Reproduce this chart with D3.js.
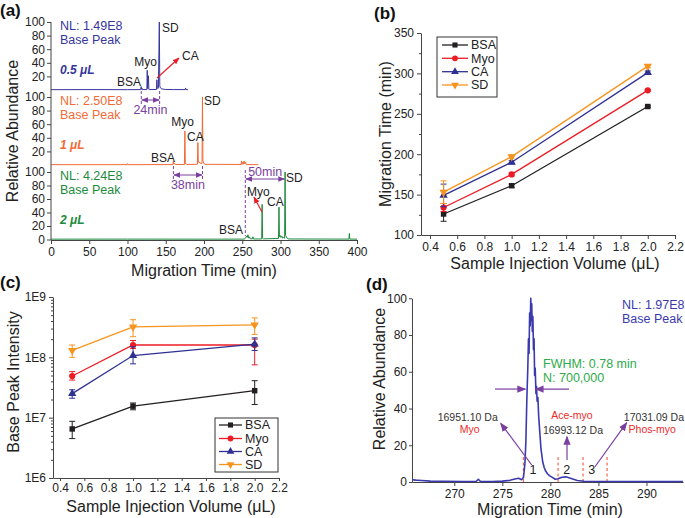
<!DOCTYPE html>
<html><head><meta charset="utf-8">
<script src="https://cdn.jsdelivr.net/npm/d3@7"></script>
<style>
body{margin:0;background:#fff}
svg{font-family:Arial,"Liberation Sans",Helvetica,sans-serif}
</style>
</head><body>
<svg id="chart" width="685" height="518"></svg>
<script>
// ---------------- DATA ----------------
// Panel (a): electropherograms, [migration time (min), relative abundance (%)]
const aTimeTicks = [0, 50, 100, 150, 200, 250, 300, 350, 400];
const aAbundTicks = [20, 40, 60, 80, 100];
const trace05 = [[0,0.5],[60,0.6],[100,0.5],[117.3,0.6],[117.8,5],[118.3,1],[118.8,3],[119.3,0.6],[125.3,0.6],[125.8,29],[126.3,2],[127.4,21],[127.9,1],[129,0.6],[137.8,0.8],[138.4,15],[139,4],[139.6,2],[140.4,3],[141.6,100],[142.2,6],[143,3],[145,1.5],[150,0.8],[160,0.6],[175.4,0.6],[175.9,3],[176.4,0.6],[179,0.5]];
const trace1 = [[0,0.5],[99.5,0.5],[100,2],[100.5,0.5],[159.4,0.6],[160,6],[160.6,1.5],[161.5,2.5],[162.2,0.8],[174.4,0.8],[175,50],[175.6,2],[176.5,2],[177.2,0.8],[191.4,1],[192,33],[192.6,4],[193.5,5],[194.5,3],[197.4,2],[198,100],[198.6,6],[199.6,3],[201,1],[248.5,0.8],[249,6],[249.6,1],[250.6,4],[251.2,1],[252.5,6],[253.2,1.5],[254.5,4],[255.2,0.6],[271,0.5]];
const trace2 = [[0,0.5],[100,0.6],[200,0.5],[253,0.6],[254.5,3],[255.5,5],[256.5,3],[257.5,7],[258.5,2],[259.5,4],[260.5,1],[263.4,1],[264,4],[264.6,0.8],[275.4,0.8],[276,52],[276.6,2],[277.5,1],[297.4,1.5],[298,48],[298.6,4],[299.6,6],[300.6,3],[301.8,5],[302.8,2],[303.8,3],[305.4,2],[306,100],[306.6,6],[307.8,4],[309,1.5],[311,0.8],[389.4,0.6],[390,9],[390.6,0.6],[400,0.5]];
const aVolumes = ["0.5 μL", "1 μL", "2 μL"];
const aNL = ["NL: 1.49E8", "NL: 2.50E8", "NL: 4.24E8"];

// Panels (b), (c)
const volumes = [0.5, 1.0, 2.0];
const proteins = ["BSA", "Myo", "CA", "SD"];
const volTicks = [0.4, 0.6, 0.8, 1.0, 1.2, 1.4, 1.6, 1.8, 2.0, 2.2];
const migTicks = [100, 150, 200, 250, 300, 350];
const migBSA = [126, 161, 259];
const migMyo = [134, 175, 279];
const migCA  = [149, 190, 301];
const migSD  = [153, 197, 309];
const migErrBSA = [9, 2, 1];
const migErrMyo = [5, 2, 1];
const migErrCA  = [14, 2, 2];
const migErrSD  = [14, 2, 2];

const intTicks = [1e6, 1e7, 1e8, 1e9];
const intBSA = [6.5e6, 1.55e7, 2.8e7];
const intMyo = [4.9e7, 1.6e8, 1.6e8];
const intCA  = [2.5e7, 1.07e8, 1.65e8];
const intSD  = [1.3e8, 3.2e8, 3.45e8];
const intLoBSA = [4.5e6, 1.35e7, 1.65e7], intHiBSA = [8.7e6, 1.75e7, 4.1e7];
const intLoMyo = [4.2e7, 1.4e8, 7.5e7],   intHiMyo = [5.8e7, 1.9e8, 2.0e8];
const intLoCA  = [2.1e7, 7.8e7, 1.3e8],   intHiCA  = [2.9e7, 1.5e8, 2.1e8];
const intLoSD  = [1.0e8, 2.2e8, 2.4e8],   intHiSD  = [1.6e8, 4.2e8, 4.5e8];

// Panel (d): myoglobin peak
const dTimeTicks = [270, 275, 280, 285, 290];
const dAbundTicks = [0, 20, 40, 60, 80, 100];
const traceD = [[265.6,1.2],[266,1.0],[266.6,0.8],[267.5,0.5],[269,0.4],[271,0.3],[272.3,0.4],[272.5,1.5],[272.7,0.4],[274,0.3],[275,0.5],[275.8,0.9],[276.3,1.6],[276.7,2.0],[277.0,1.2],[277.2,2.5],[277.35,10],[277.45,22],[277.55,45],[277.65,62],[277.72,78],[277.78,70],[277.84,92],[277.9,85],[277.96,100],[278.0,88],[278.06,97],[278.12,82],[278.18,90],[278.24,72],[278.3,78],[278.36,58],[278.42,62],[278.5,48],[278.56,52],[278.62,44],[278.7,46],[278.78,36],[278.86,30],[278.94,24],[279.02,18],[279.1,15],[279.2,11],[279.35,8],[279.5,6],[279.7,4.5],[279.9,3.5],[280.2,2.5],[280.5,1.5],[280.8,1.8],[281.2,2.6],[281.6,2.8],[282.0,2.2],[282.4,1.5],[282.8,0.8],[283.5,0.4],[285,0.3],[288,0.3],[291,0.2],[293.8,0.3]];
const dWindows = [277.2, 280.8, 283.4, 285.9];
const dMasses = ["16951.10 Da", "16993.12 Da", "17031.09 Da"];
const dForms = ["Myo", "Ace-myo", "Phos-myo"];

// ---------------- STYLE ----------------
const colors = {BSA:"#231f20", Myo:"#ed1c24", CA:"#2e3192", SD:"#f7941d"};
const aColors = ["#36369c", "#f26a36", "#1d8a3c"];
const purple = "#7b3fa0", axisCol = "#444", textCol = "#222";

const svg = d3.select("#chart");
svg.append("rect").attr("width",685).attr("height",518).attr("fill","#fff");
const defs = svg.append("defs");
function marker(id, color, size){
  defs.append("marker").attr("id",id).attr("viewBox","0 0 10 10").attr("refX",9).attr("refY",5)
    .attr("markerWidth",size).attr("markerHeight",size).attr("markerUnits","userSpaceOnUse")
    .attr("orient","auto-start-reverse")
    .append("path").attr("d","M0,1L10,5L0,9z").attr("fill",color);
}
marker("arPurple", purple, 7);
marker("arRed", "#e8202a", 7);
marker("arPurpleBig", purple, 9);

function styleAxis(g){
  g.selectAll("path.domain").attr("stroke",axisCol).attr("stroke-width",1);
  g.selectAll(".tick line").attr("stroke",axisCol);
  g.selectAll(".tick text").attr("fill",textCol).style("font-size","12px").style("font-family","Arial, 'Liberation Sans', sans-serif");
}
function txt(x,y,s,opt={}){
  const t = svg.append("text").attr("x",x).attr("y",y).text(s)
    .attr("fill",opt.fill||textCol).style("font-size",(opt.size||12)+"px")
    .attr("text-anchor",opt.anchor||"start").attr("dy","0.35em");
  if(opt.weight) t.style("font-weight",opt.weight);
  if(opt.italic) t.style("font-style","italic");
  if(opt.rotate) t.attr("transform",`rotate(-90,${x},${y})`);
  return t;
}
function panelLabel(x,y,s){ txt(x,y,s,{size:17,weight:"bold",fill:"#111"}); }

// ---------------- PANEL (a) ----------------
const xA = d3.scaleLinear().domain([0,400]).range([51,357]);
const rows = [
  {trace:trace05, base:90, top:22},
  {trace:trace1,  base:165, top:97},
  {trace:trace2,  base:239.5, top:172}
];
rows.forEach((r,i)=>{
  const y = d3.scaleLinear().domain([0,100]).range([r.base,r.top]);
  r.y = y;
  const ticks = i===2 ? [0].concat(aAbundTicks) : aAbundTicks;
  const g = svg.append("g").attr("transform","translate(51,0)")
    .call(d3.axisLeft(y).tickValues(ticks).tickSize(4).tickPadding(2).tickSizeOuter(0));
  g.select("path.domain").remove();
  styleAxis(g);
  svg.append("path").datum(r.trace).attr("fill","none").attr("stroke",aColors[i]).attr("stroke-width",1)
    .attr("d", d3.line().x(d=>xA(d[0])).y(d=>y(d[1])));
  txt(60, y(95), aNL[i], {fill:aColors[i], size:12.5});
  txt(60, y(74), "Base Peak", {fill:aColors[i], size:12.5});
  txt(60, y(29), aVolumes[i], {fill:aColors[i], size:12, weight:"bold", italic:true});
});
svg.append("line").attr("x1",51).attr("x2",51).attr("y1",22).attr("y2",240).attr("stroke",axisCol);
{
  const g = svg.append("g").attr("transform","translate(0,240)")
    .call(d3.axisBottom(xA).tickValues(aTimeTicks).tickSize(4).tickSizeOuter(0));
  styleAxis(g);
}
txt(12,131,"Relative Abundance",{size:16,anchor:"middle",rotate:true});
txt(204,270,"Migration Time (min)",{size:16,anchor:"middle"});
panelLabel(0,10,"(a)");

// peak labels (a)
const [r0,r1,r2] = rows;
txt(141, r0.y(12), "BSA", {anchor:"end"});
txt(145.5, r0.y(41), "Myo", {anchor:"middle"});
txt(162, r0.y(92), "SD");
txt(182, r0.y(50), "CA");
svg.append("line").attr("x1",157).attr("y1",78).attr("x2",179).attr("y2",58)
  .attr("stroke","#e8202a").attr("stroke-width",1.2).attr("marker-end","url(#arRed)");
txt(175, r1.y(10), "BSA", {anchor:"end"});
txt(182.5, r1.y(63), "Myo", {anchor:"middle"});
txt(187, r1.y(42), "CA");
txt(204, r1.y(95), "SD");
txt(243, r2.y(15), "BSA", {anchor:"end"});
txt(247, r2.y(71), "Myo");
txt(267, r2.y(56), "CA");
txt(286, r2.y(92), "SD");
svg.append("line").attr("x1",262).attr("y1",212).attr("x2",254).attr("y2",197)
  .attr("stroke","#e8202a").attr("stroke-width",1.2).attr("marker-end","url(#arRed)");

// migration-window annotations (a)
function dashV(x,y1,y2){ svg.append("line").attr("x1",x).attr("x2",x).attr("y1",y1).attr("y2",y2)
  .attr("stroke",purple).attr("stroke-width",1).attr("stroke-dasharray","3,2"); }
function dblArrow(x1,x2,y){ svg.append("line").attr("x1",x1+0.5).attr("x2",x2-0.5).attr("y1",y).attr("y2",y)
  .attr("stroke",purple).attr("stroke-width",1).attr("marker-start","url(#arPurple)").attr("marker-end","url(#arPurple)"); }
dashV(xA(118),91,104); dashV(xA(142),91,104); dblArrow(xA(118),xA(142),100);
txt(xA(130),110,"24min",{fill:purple,anchor:"middle",size:12.5});
dashV(xA(160),166,181); dashV(xA(198),166,181); dblArrow(xA(160),xA(198),175);
txt(xA(179),185,"38min",{fill:purple,anchor:"middle",size:12.5});
dashV(xA(254),170,236); dblArrow(xA(254),xA(306),179);
txt(xA(280),172,"50min",{fill:purple,anchor:"middle",size:12.5});

// ---------------- PANEL (b) ----------------
const xB = d3.scaleLinear().domain([0.334,2.2]).range([421,675]);
const yB = d3.scaleLinear().domain([100,350]).range([235,33]);
{
  const gx = svg.append("g").attr("transform","translate(0,235)")
    .call(d3.axisBottom(xB).tickValues(volTicks).tickFormat(d3.format(".1f")).tickSize(4).tickSizeOuter(0));
  styleAxis(gx);
  const gy = svg.append("g").attr("transform","translate(421,0)")
    .call(d3.axisLeft(yB).tickValues(migTicks).tickSize(4).tickSizeOuter(0));
  styleAxis(gy);
  const gm = svg.append("g").attr("transform","translate(421,0)")
    .call(d3.axisLeft(yB).tickValues([125,175,225,275,325]).tickSize(2).tickFormat(""));
  gm.select("path.domain").remove(); styleAxis(gm);
}
const symType = {BSA:d3.symbolSquare, Myo:d3.symbolCircle, CA:d3.symbolTriangle, SD:d3.symbolTriangle};
function drawSym(g,p,x,y,size){
  g.append("path").attr("d",d3.symbol(symType[p],size||28)())
    .attr("transform",`translate(${x},${y})${p==="SD"?" rotate(180)":""}`).attr("fill",colors[p]);
}
const migData = {BSA:[migBSA,migErrBSA], Myo:[migMyo,migErrMyo], CA:[migCA,migErrCA], SD:[migSD,migErrSD]};
proteins.forEach(p=>{
  const [vals,errs] = migData[p];
  const pts = volumes.map((v,i)=>({x:v,y:vals[i],lo:vals[i]-errs[i],hi:vals[i]+errs[i]}));
  const g = svg.append("g");
  g.append("path").datum(pts).attr("fill","none").attr("stroke",colors[p]).attr("stroke-width",1.3)
    .attr("d",d3.line().x(d=>xB(d.x)).y(d=>yB(d.y)));
  pts.forEach(d=>{
    g.append("line").attr("x1",xB(d.x)).attr("x2",xB(d.x)).attr("y1",yB(d.lo)).attr("y2",yB(d.hi)).attr("stroke",colors[p]);
    [d.lo,d.hi].forEach(v=>g.append("line").attr("x1",xB(d.x)-3).attr("x2",xB(d.x)+3).attr("y1",yB(v)).attr("y2",yB(v)).attr("stroke",colors[p]));
    drawSym(g,p,xB(d.x),yB(d.y),30);
  });
});
function legend(x0,y0,w,h,lx1,lx2,tx,ys){
  svg.append("rect").attr("x",x0).attr("y",y0).attr("width",w).attr("height",h).attr("fill","#fff").attr("stroke","#333");
  proteins.forEach((p,i)=>{
    const g = svg.append("g");
    g.append("line").attr("x1",lx1).attr("x2",lx2).attr("y1",ys[i]).attr("y2",ys[i]).attr("stroke",colors[p]).attr("stroke-width",1.3);
    drawSym(g,p,(lx1+lx2)/2,ys[i],26);
    txt(tx,ys[i],p,{size:12.5});
  });
}
legend(437,37,60,60,442,468,471,[45,58.3,71.7,85]);
txt(385,134,"Migration Time (min)",{size:16,anchor:"middle",rotate:true});
txt(555,263,"Sample Injection Volume (μL)",{size:16,anchor:"middle"});
panelLabel(374,13,"(b)");

// ---------------- PANEL (c) ----------------
const xC = d3.scaleLinear().domain([0.342,2.2]).range([53,279]);
const yC = d3.scaleLog().domain([1e6,1e9]).range([478,297]);
{
  const gx = svg.append("g").attr("transform","translate(0,478)")
    .call(d3.axisBottom(xC).tickValues(volTicks).tickFormat(d3.format(".1f")).tickSize(3).tickPadding(2).tickSizeOuter(0));
  styleAxis(gx);
  const gy = svg.append("g").attr("transform","translate(53,0)")
    .call(d3.axisLeft(yC).tickValues(intTicks).tickFormat(d=>"1E"+Math.round(Math.log10(d))).tickSize(4).tickSizeOuter(0));
  styleAxis(gy);
  const minors = [];
  [1e6,1e7,1e8].forEach(dec=>{ for(let k=2;k<10;k++) minors.push(dec*k); });
  const gm = svg.append("g").attr("transform","translate(53,0)")
    .call(d3.axisLeft(yC).tickValues(minors).tickSize(2).tickFormat(""));
  gm.select("path.domain").remove(); styleAxis(gm);
}
const intData = {BSA:[intBSA,intLoBSA,intHiBSA], Myo:[intMyo,intLoMyo,intHiMyo], CA:[intCA,intLoCA,intHiCA], SD:[intSD,intLoSD,intHiSD]};
proteins.forEach(p=>{
  const [vals,lo,hi] = intData[p];
  const pts = volumes.map((v,i)=>({x:v,y:vals[i],lo:lo[i],hi:hi[i]}));
  const g = svg.append("g");
  g.append("path").datum(pts).attr("fill","none").attr("stroke",colors[p]).attr("stroke-width",1.3)
    .attr("d",d3.line().x(d=>xC(d.x)).y(d=>yC(d.y)));
  pts.forEach(d=>{
    g.append("line").attr("x1",xC(d.x)).attr("x2",xC(d.x)).attr("y1",yC(d.lo)).attr("y2",yC(d.hi)).attr("stroke",colors[p]);
    [d.lo,d.hi].forEach(v=>g.append("line").attr("x1",xC(d.x)-3).attr("x2",xC(d.x)+3).attr("y1",yC(v)).attr("y2",yC(v)).attr("stroke",colors[p]));
    drawSym(g,p,xC(d.x),yC(d.y),30);
  });
});
legend(215,418,63,54,219,242,245,[425,438.5,451.5,464.5]);
txt(13,382,"Base Peak Intensity",{size:16,anchor:"middle",rotate:true});
txt(171,506,"Sample Injection Volume (μL)",{size:16,anchor:"middle"});
panelLabel(0,282,"(c)");

// ---------------- PANEL (d) ----------------
const xD = d3.scaleLinear().domain([265.6,293.8]).range([412,683]);
const yD = d3.scaleLinear().domain([0,100]).range([482,298.3]);
{
  const gx = svg.append("g").attr("transform","translate(0,482)")
    .call(d3.axisBottom(xD).tickValues(dTimeTicks).tickSize(4).tickSizeOuter(0));
  styleAxis(gx);
  const gy = svg.append("g").attr("transform","translate(412,0)")
    .call(d3.axisLeft(yD).tickValues(dAbundTicks).tickSize(3).tickPadding(2).tickSizeOuter(0));
  styleAxis(gy);
}
dWindows.forEach(t=>{
  svg.append("line").attr("x1",xD(t)).attr("x2",xD(t)).attr("y1",yD(0)).attr("y2",yD(14))
    .attr("stroke","#f4694d").attr("stroke-width",1.2).attr("stroke-dasharray","3,2.5");
});
svg.append("path").datum(traceD).attr("fill","none").attr("stroke","#3a3aae").attr("stroke-width",1.6)
  .attr("stroke-linejoin","round").attr("d",d3.line().x(d=>xD(d[0])).y(d=>yD(d[1])));
txt(622,yD(96.3),"NL: 1.97E8",{fill:"#3a3aae",size:12.5});
txt(622,yD(88.7),"Base Peak",{fill:"#3a3aae",size:12.5});
txt(543,yD(64.2),"FWHM: 0.78 min",{fill:"#2eaa4a",size:12.5});
txt(543,yD(56.6),"N: 700,000",{fill:"#2eaa4a",size:12.5});
// FWHM arrows
svg.append("line").attr("x1",xD(274.24)).attr("x2",xD(277.4)).attr("y1",yD(50.6)).attr("y2",yD(50.6))
  .attr("stroke",purple).attr("stroke-width",1.2).attr("marker-end","url(#arPurpleBig)");
svg.append("line").attr("x1",xD(281.94)).attr("x2",xD(278.45)).attr("y1",yD(50.6)).attr("y2",yD(50.6))
  .attr("stroke",purple).attr("stroke-width",1.2).attr("marker-end","url(#arPurpleBig)");
// window numbers and arrows
["1","2","3"].forEach((s,i)=> txt(xD([278.2,281.7,284.3][i]), yD(6.5), s, {anchor:"middle",size:12.5}));
[[278.06,9.25,274.83,31.95],[281.73,12,281.73,24.7],[284.64,8.3,287.94,32.3]].forEach(a=>{
  svg.append("line").attr("x1",xD(a[0])).attr("y1",yD(a[1])).attr("x2",xD(a[2])).attr("y2",yD(a[3]))
    .attr("stroke",purple).attr("stroke-width",1.2).attr("marker-end","url(#arPurpleBig)");
});
txt(xD(271.4),yD(35.4),dMasses[0],{anchor:"middle",size:10.5,fill:"#333"});
txt(xD(271.6),yD(28.9),dForms[0],{anchor:"middle",size:10.5,fill:"#ee2a2a"});
txt(xD(282.25),yD(36.5),dForms[1],{anchor:"middle",size:10.5,fill:"#ee2a2a"});
txt(xD(282.35),yD(28.3),dMasses[1],{anchor:"middle",size:10.5,fill:"#333"});
txt(684,yD(35.4),dMasses[2],{anchor:"end",size:10.5,fill:"#333"});
txt(xD(290.6),yD(28.9),dForms[2],{anchor:"middle",size:10.5,fill:"#ee2a2a"});
txt(379,379,"Relative Abundance",{size:16,anchor:"middle",rotate:true});
txt(550,509,"Migration Time (min)",{size:16,anchor:"middle"});
panelLabel(366,284,"(d)");
</script>
</body></html>
